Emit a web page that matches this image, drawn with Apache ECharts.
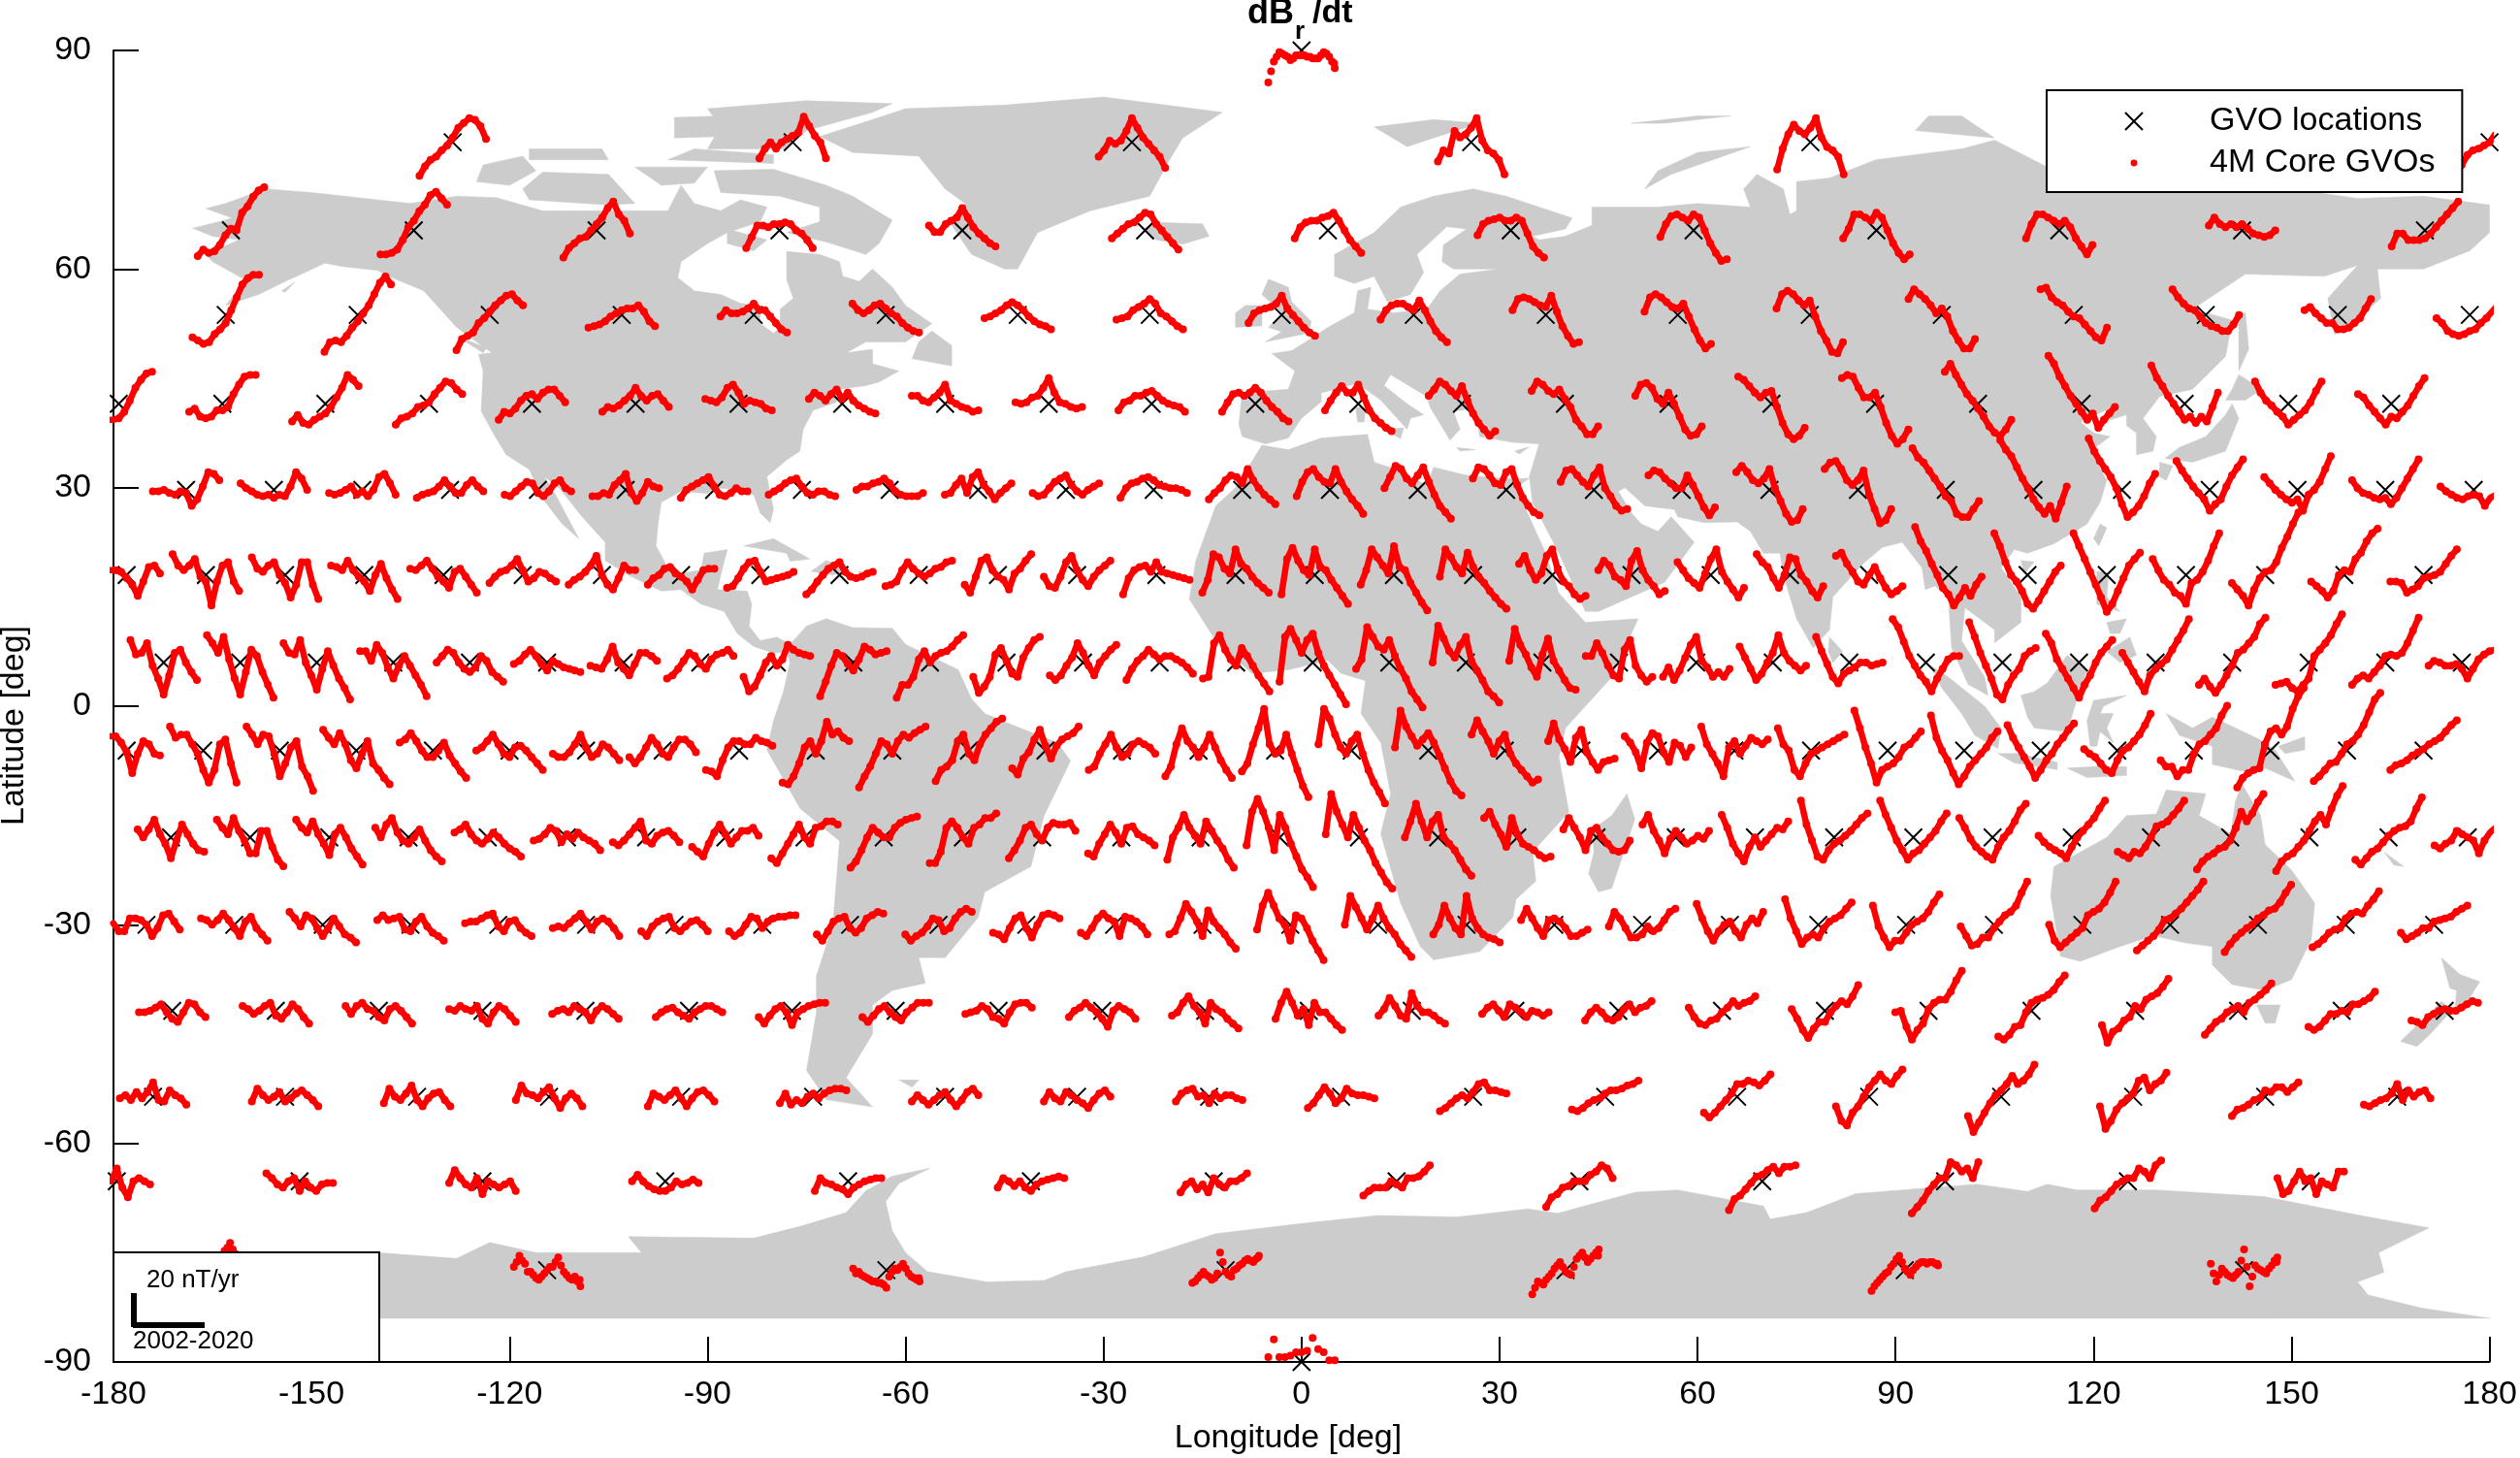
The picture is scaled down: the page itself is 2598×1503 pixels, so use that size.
<!DOCTYPE html>
<html><head><meta charset="utf-8"><style>html,body{margin:0;padding:0;background:#fff}#c{width:2598px;height:1503px}</style>
<script src="https://cdn.jsdelivr.net/npm/echarts@6/dist/echarts.min.js"></script></head><body><div id="c"></div>
<script>
const years=[2002,2003.5,2005,2006.5,2008,2009.5,2011,2012.5,2014,2015.5,2017,2018.5,2020];
const yearsMid=[2002.75,2004.25,2005.75,2007.25,2008.75,2010.25,2011.75,2013.25,2014.75,2016.25,2017.75,2019.25,2019.8];
const degLonPerYear=0.56, degLatPerNT=0.22;
const lons_p90=[0];
const lons_p77=[-128.6,-77.1,-25.7,25.7,77.1,128.6,180];
const lons_p65=[-162.2,-134.5,-106.8,-79.1,-51.4,-23.7,4,31.7,59.4,87.1,114.8,142.5,170.2];
const lons_p53=[-163,-143,-123,-103,-83,-63,-43,-23,-3,17,37,57,77,97,117,137,157,177];
const lons_p41=[-179.2,-163.5,-147.9,-132.2,-116.6,-100.9,-85.3,-69.6,-54,-38.3,-22.7,-7,8.6,24.3,39.9,55.6,71.2,86.9,102.5,118.2,133.8,149.5,165.1];
const lons_p30=[-169,-155.7,-142.3,-129,-115.7,-102.4,-89,-75.7,-62.4,-49,-35.7,-22.4,-9,4.3,17.6,31,44.3,57.6,70.9,84.3,97.6,110.9,124.3,137.6,150.9,164.2,177.6];
const lons_p18=[-178,-166,-154,-142,-130,-118,-106,-94,-82,-70,-58,-46,-34,-22,-10,2,14,26,38,50,62,74,86,98,110,122,134,146,158,170];
const lons_p6=[-172.4,-160.8,-149.2,-137.6,-126,-114.3,-102.7,-91.1,-79.5,-67.9,-56.3,-44.7,-33.1,-21.5,-9.9,1.7,13.3,24.9,36.5,48.1,59.8,71.4,83,94.6,106.2,117.8,129.4,141,152.6,164.2,175.8];
const lons_m6=[-178,-166.4,-154.8,-143.2,-131.6,-120,-108.4,-96.8,-85.2,-73.6,-62,-50.4,-38.8,-27.2,-15.6,-4,7.6,19.2,30.8,42.4,54,65.6,77.2,88.8,100.4,112,123.6,135.2,146.8,158.4,170];
const lons_m18=[-171.3,-159.3,-147.3,-135.3,-123.3,-111.3,-99.3,-87.3,-75.3,-63.3,-51.3,-39.3,-27.3,-15.3,-3.3,8.7,20.7,32.7,44.7,56.7,68.7,80.7,92.7,104.7,116.7,128.7,140.7,152.7,164.7,176.7];
const lons_m30=[-175,-161.7,-148.3,-135,-121.7,-108.4,-95,-81.7,-68.4,-55,-41.7,-28.4,-15,-1.7,11.6,25,38.3,51.6,64.9,78.3,91.6,104.9,118.3,131.6,144.9,158.2,171.6];
const lons_m42=[-171.1,-155.4,-139.8,-124.1,-108.5,-92.8,-77.2,-61.5,-45.9,-30.2,-14.6,1.1,16.7,32.4,48,63.7,79.3,95,110.6,126.3,141.9,157.6,173.2];
const lons_m53=[-174,-154,-134,-114,-94,-74,-54,-34,-14,6,26,46,66,86,106,126,146,166];
const lons_m65=[-179.5,-151.8,-124.1,-96.4,-68.7,-41,-13.3,14.4,42.1,69.8,97.5,125.2,152.9];
const lons_m77=[-165.7,-114.3,-62.9,-11.5,40,91.4,142.8];
const lons_m90=[0];

const dB_p90=[[-20,-7,-1,-3,-6,-3,-3,-4,-5,-5,-1,-4,-11]];
const dB_p90_mid=[[-13,-4,-2,-4,-5,-3,-3,-4,-5,-3,-2,-7,-8]];
const dB_p77=[
[-21,-15,-11,-9,-5,-2,3,9,12,15,14,10,2],[-10,-4,0,-4,0,2,4,6,16,10,4,0,-10],[-9,-5,1,-1,1,7,15,9,3,-1,-5,-9,-16],[-12,-5,-7,7,3,5,9,15,1,-5,-7,-11,-20],[-17,-4,5,11,7,5,9,15,3,-3,-5,-9,-20],[-18,-10,0,5,5,10,8,5,0,-5,-8,-10,-19],[-20,-14,-8,-5,-4,-2,0,5,7,9,10,11,12]];
const dB_p65=[
[-16,-12,-14,-13,-9,-3,1,0,11,15,21,25,27],[-15,-15,-14,-12,-6,2,6,12,16,22,24,20,16],[-17,-11,-8,-5,-4,0,4,8,14,18,10,6,-2],[-11,-4,3,3,2,4,4,5,4,0,-2,-6,-11],[3,-1,-1,4,6,8,14,8,2,-2,-5,-8,-10],[-5,-2,1,4,5,8,11,10,4,0,-4,-8,-12],[-5,2,5,6,6,8,9,11,6,0,-6,-10,-14],[-3,4,6,7,8,6,6,8,6,-2,-10,-14,-17],[-4,4,9,10,8,6,10,8,0,-8,-14,-19,-18],[-5,1,10,10,8,6,11,8,0,-8,-14,-18,-15],[-5,4,10,10,8,6,4,6,2,-5,-10,-15,-9],[3,8,4,2,4,2,4,1,-2,-3,-4,-3,0],[-10,-2,-2,-6,-6,-6,-5,-2,2,6,10,14,18]];
const dB_p53=[
[-14,-16,-18,-17,-12,-9,-5,3,11,19,23,25,25],[-23,-17,-16,-17,-13,-8,-4,1,6,13,20,24,19],[-22,-15,-13,-11,-5,-2,2,6,9,12,13,9,6],[-8,-7,-6,-4,-1,1,3,4,4,6,2,-4,-7],[-1,3,1,1,2,4,7,3,3,-1,-5,-9,-11],[7,3,1,3,6,7,4,1,-1,-5,-8,-10,-11],[-2,-1,1,3,6,8,6,3,-1,-4,-6,-7,-9],[-3,-2,-1,3,5,7,10,7,1,-1,-4,-7,-9],[-5,1,3,4,5,7,12,4,0,-4,-8,-11,-13],[-3,3,6,7,7,5,3,9,3,-4,-10,-14,-17],[3,10,11,10,8,6,5,12,2,-7,-13,-18,-17],[2,11,13,11,8,5,4,7,-1,-9,-16,-21,-18],[4,13,15,13,9,6,9,-1,-10,-16,-23,-24,-17],[10,16,13,10,6,1,4,-1,-10,-16,-21,-21,-15],[16,17,11,8,6,2,-1,-2,-6,-10,-14,-16,-8],[16,11,7,4,3,-1,-5,-7,-8,-10,-10,-6,0],[3,5,1,-2,-5,-5,-9,-9,-8,-5,-2,4,10],[-2,-5,-10,-12,-13,-12,-10,-9,-5,-2,2,6,10]];
const dB_p41=[
[-10,-10,-10,-10,-10,-10,-9,-5,2,10,15,19,20],[-5,-3,-8,-9,-8,-4,-4,-2,6,12,17,18,18],[-11,-7,-12,-13,-10,-8,-6,-2,4,10,18,15,11],[-13,-9,-8,-6,-2,-1,1,6,10,14,13,9,6],[-10,-5,-6,-3,2,5,6,3,7,9,9,5,1],[-5,-2,-3,-1,2,5,10,5,2,5,6,2,-2],[3,2,1,4,10,12,7,0,2,1,0,-3,-4],[3,7,5,2,6,9,3,7,2,-1,-3,-5,-6],[5,5,2,1,4,7,12,2,0,-2,-3,-5,-4],[1,0,1,4,5,10,16,7,1,0,-2,-3,-2],[-4,1,2,5,5,7,8,5,2,0,-1,-2,-5],[-5,1,6,7,5,7,10,7,2,-2,-5,-9,-11],[-4,2,7,11,7,7,12,4,-4,-9,-12,-15,-17],[5,9,14,12,8,5,11,2,-6,-12,-16,-20,-17],[8,14,12,8,6,9,3,-2,-10,-14,-19,-19,-14],[5,12,13,10,3,0,7,0,-8,-16,-20,-19,-14],[17,15,11,7,4,7,8,-2,-12,-19,-22,-20,-15],[16,18,17,10,4,4,7,-2,-12,-20,-25,-22,-16],[20,25,18,12,6,2,-3,-8,-14,-18,-20,-16,-10],[30,25,17,11,5,0,-5,-10,-6,-15,-10,-6,-2],[24,16,11,5,0,-5,-10,-8,-12,-8,-11,-2,7],[14,7,2,-1,-5,-8,-13,-10,-7,-4,1,8,14],[6,4,-1,-5,-9,-13,-8,-9,-5,-1,5,11,16]];
const dB_p30=[
[-1,-1,0,-2,-3,-1,-2,-10,-6,2,11,10,6],[4,1,-1,-3,-4,-3,-5,-3,-4,2,11,7,0],[-2,-3,-2,0,2,-3,-1,-4,0,8,10,4,-3],[-5,-3,-2,-1,2,6,2,-2,-2,3,6,2,-1],[-3,-4,-1,2,5,4,-2,-4,-1,4,6,1,-1],[-4,-4,-2,-3,3,6,10,-2,-7,-2,5,2,1],[-5,0,2,4,6,8,2,-3,-4,-2,1,-1,-1],[-3,-1,1,4,6,7,2,-2,-3,-1,-1,-3,-4],[0,2,2,4,5,7,4,-1,-3,-4,-4,-4,-2],[-3,-2,3,7,-2,8,11,3,-1,-6,-2,1,4],[-2,-4,-3,1,5,7,9,3,-1,-3,0,2,4],[-5,1,4,5,7,8,6,3,2,1,1,0,-2],[-6,-2,1,6,9,8,4,13,6,1,-3,-6,-9],[-4,5,11,13,8,5,4,13,5,-1,-6,-10,-15],[1,8,15,13,7,4,9,14,5,-3,-10,-14,-18],[7,14,13,9,4,3,11,13,3,-5,-10,-14,-16],[5,12,13,9,5,2,9,14,1,-4,-10,-13,-12],[9,12,11,7,4,1,1,9,3,-4,-11,-16,-11],[11,15,11,6,4,7,13,1,-7,-15,-20,-19,-12],[13,17,18,13,6,3,6,12,-3,-12,-21,-19,-12],[26,20,17,12,7,2,-4,-7,-15,-17,-17,-12,-7],[31,25,21,14,7,1,-6,-11,-15,-10,-18,-8,2],[32,24,18,13,8,1,-9,-17,-14,-10,-4,4,10],[18,12,7,2,-2,-6,-13,-9,-6,2,9,14,19],[8,4,0,-3,-6,-8,-6,-13,-3,0,5,13,21],[6,1,-2,-3,-5,-6,-5,-9,-5,1,7,13,19],[2,-1,-3,-5,-6,-4,-3,-4,-10,-5,-3,-1,1]];
const dB_p18=[
[3,3,3,3,3,2,-2,-6,-13,-4,5,6,1],[13,6,3,6,10,-1,-4,-19,-4,6,8,-4,-10],[11,4,2,6,8,0,-5,-14,-6,8,8,-6,-15],[6,5,3,9,3,-1,-4,-10,0,7,-2,-9,-15],[4,3,6,9,4,-1,-4,-8,2,4,-1,-6,-11],[-5,-1,2,3,6,10,3,-4,-2,2,1,-2,-4],[-6,-3,-1,2,6,12,0,-6,-9,-2,6,3,3],[-6,-2,0,4,5,1,-1,-4,-9,-3,3,4,4],[-8,-7,-2,4,8,9,2,-4,-3,-2,-1,0,2],[-12,-9,-4,0,4,6,8,2,-1,-2,-1,1,2],[-7,-6,-4,3,8,4,1,-1,1,4,5,8,9],[-6,-11,-1,9,11,3,-1,-3,-9,1,4,9,13],[-1,-7,-8,-1,8,12,3,-3,-7,-1,3,6,9],[-12,-2,3,5,6,2,8,2,1,0,-1,-2,-3],[-11,-3,13,11,4,1,16,7,4,-1,-5,-8,-11],[-12,10,17,9,3,0,16,5,3,-3,-8,-13,-18],[-6,3,16,11,6,1,18,5,3,-5,-11,-17,-22],[-1,16,11,5,1,14,5,-1,-5,-10,-14,-18,-21],[7,12,3,-3,1,12,16,3,-4,-7,-12,-15,-13],[3,9,6,-1,-3,-7,9,15,3,-3,-7,-12,-10],[8,3,-2,-5,-8,1,10,16,2,-4,-9,-14,-8],[13,8,5,-2,-8,0,11,10,0,-4,-10,-14,-7],[12,14,7,2,-4,-6,0,5,-2,-8,-12,-10,-7],[30,21,15,7,0,-8,-12,-19,-14,-8,-13,-6,-1],[26,18,8,0,-4,-10,-18,-21,-16,-10,-4,2,6],[26,18,10,2,-6,-14,-23,-18,-10,-2,6,10,14],[10,3,-3,-6,-11,-13,-18,-5,-3,2,9,18,26],[-5,-9,-13,-19,-9,-2,2,3,8,17,24,32,39],[-4,-7,-10,-14,-10,0,3,2,10,14,21,26,29],[-4,-4,-5,-11,-9,-7,-2,-1,0,2,7,12,16]];
const dB_p6=[
[14,5,6,12,-2,-10,-20,-8,6,8,0,-6,-11],[17,12,6,16,2,-10,-20,-6,8,4,-6,-14,-22],[12,6,5,14,0,-8,-17,-4,7,-2,-10,-16,-23],[7,7,1,11,6,-3,-10,-2,4,-2,-8,-14,-21],[0,4,8,6,0,-4,-6,-3,4,1,-6,-9,-12],[-1,1,5,8,4,-1,-5,1,-1,-3,-4,-5,-6],[-2,-3,-4,2,10,0,-4,-8,-1,6,6,4,1],[-10,-8,-4,1,6,4,-1,-4,2,5,6,8,4],[-9,-18,-15,-8,0,4,-2,2,11,8,6,5,4],[-21,-12,-2,6,4,-1,-5,2,10,8,5,6,7],[-22,-14,-14,-9,2,7,0,4,6,7,10,14,17],[-9,-19,-15,-9,5,9,1,-7,-9,3,9,14,16],[-8,-11,-8,-2,3,12,6,-2,-8,0,4,8,11],[-11,-4,1,4,8,5,2,4,4,2,0,-3,-7],[-10,-9,12,17,8,2,-2,9,4,-2,-8,-13,-18],[-12,16,21,14,6,14,18,6,-2,-8,-14,-20,-26],[-4,2,22,16,10,8,14,4,-4,-10,-18,-23,-28],[0,23,15,7,3,11,16,1,-5,-11,-18,-21,-25],[1,21,11,5,-3,-9,5,15,1,-5,-11,-16,-17],[4,4,12,6,-2,-8,-10,8,14,-2,-8,-12,-9],[-9,-3,-11,-5,3,11,16,1,-3,-9,-6,-9,-4],[10,3,-4,-11,-7,0,6,17,6,1,-2,-5,-2],[16,7,-1,-9,-13,-7,-5,-3,0,0,-2,-1,0],[27,22,13,4,-2,-8,-12,-18,-10,-4,2,4,4],[25,16,6,-2,-10,-20,-23,-14,-8,-4,4,7,9],[18,12,2,-4,-10,-16,-22,-14,-8,0,6,10,14],[6,0,-6,-12,-18,-8,-4,-1,2,8,14,20,27],[-14,-10,-15,-19,-14,-8,-2,6,8,12,16,24,28],[-14,-13,-12,-16,-18,-14,-10,4,8,12,17,24,30],[-14,-10,-8,-10,-6,-2,4,5,4,6,12,20,28],[-2,1,0,-2,-2,-1,-4,-10,-4,2,5,7,8]];
const dB_m6=[
[9,9,9,9,9,5,-1,-14,-2,6,4,-2,-3],[15,8,10,10,4,-2,-12,-20,-12,4,7,-8,-20],[15,10,4,10,9,-2,-16,-8,2,6,-10,-16,-25],[13,8,4,11,4,-6,-11,-2,6,-8,-12,-17,-21],[5,7,11,6,0,-4,-4,0,5,-3,-8,-13,-17],[0,2,6,10,4,-2,-4,2,3,0,-4,-8,-12],[-2,-4,-4,-1,4,10,2,-4,-2,4,2,-2,-6],[-4,-8,-4,2,8,4,-2,-4,2,7,7,4,-1],[-12,-13,-16,-6,2,6,6,4,4,8,6,5,3],[-20,-21,-16,-8,2,6,-2,6,18,10,12,8,6],[-23,-16,-10,-2,6,4,-2,6,10,8,11,13,15],[-19,-12,-10,-6,6,10,-2,-6,4,10,14,18,20],[-11,-15,-5,-1,7,13,3,-5,3,7,9,11,15],[-12,-10,-2,4,10,2,-4,-2,4,6,4,2,-2],[-16,-10,4,14,6,2,-4,2,10,2,-6,-12,-17],[-13,-8,4,14,26,4,-2,0,10,-2,-12,-22,-29],[4,26,20,10,2,-2,6,10,-2,-12,-20,-26,-33],[2,25,15,9,3,7,11,5,-3,-11,-19,-25,-28],[10,19,12,6,-2,6,10,-2,-8,-12,-16,-20,-18],[6,17,7,1,-7,8,13,-1,-7,-12,-7,-6,-5],[9,5,-1,-11,5,11,9,-1,-7,5,3,-4,2],[15,4,-2,-8,-16,2,6,-2,3,8,6,4,7],[14,4,0,-12,-16,-8,-2,0,2,4,6,8,10],[25,14,2,-8,-20,-12,-10,-8,-4,2,4,8,12],[22,8,0,-6,-14,-21,-16,-10,-6,-2,2,8,12],[16,8,2,-4,-10,-17,-12,-6,-2,4,8,13,17],[1,-2,-4,-8,-12,-14,-6,0,2,6,10,16,23],[-6,-10,-10,-16,-12,-12,-2,4,6,10,14,22,28],[-23,-17,-14,-12,-11,4,12,14,10,15,26,34,39],[-19,-16,-12,-8,-7,-2,4,6,10,16,24,32,36],[-12,-9,-8,-6,-3,-1,1,4,6,8,12,16,19]];
const dB_m18=[
[5,0,5,11,2,-4,-13,-2,8,2,-4,-8,-9],[11,6,2,12,4,-2,-10,-10,4,4,-6,-14,-18],[11,6,3,10,2,-4,-11,2,6,0,-7,-12,-17],[6,0,8,12,3,-2,-4,0,5,-2,-8,-12,-15],[3,5,8,2,-2,-4,-1,3,0,-4,-7,-9,-12],[-2,-1,2,6,4,-3,2,-1,3,0,-2,-4,-8],[-3,-5,-2,2,6,10,-2,-4,1,3,4,1,-3],[-6,-9,-12,-4,3,8,2,-4,0,4,4,6,1],[-13,-16,-10,-4,2,8,0,-4,6,7,10,10,8],[-19,-15,-8,0,6,3,0,0,6,9,11,12,13],[-16,-16,-9,6,10,6,0,-4,6,8,12,12,15],[-13,-8,-2,6,8,2,-2,6,9,8,8,9,4],[-10,-12,-4,2,8,3,-4,6,7,2,0,-2,-5],[-14,0,6,14,6,1,-4,10,4,-2,-7,-14,-19],[-5,16,24,16,6,-8,14,6,-4,-12,-20,-25,-31],[2,27,16,8,0,14,6,-2,-8,-16,-22,-28,-32],[0,10,21,10,0,10,14,0,-4,-8,-14,-20,-24],[12,16,8,2,-6,12,2,-4,-6,-8,-11,-13,-12],[5,12,6,0,-8,4,6,0,-4,-8,-9,-8,-2],[8,14,4,-2,-10,-1,4,0,-4,-2,1,-1,4],[14,6,-4,-10,-15,-6,0,-6,-2,2,6,5,10],[23,8,-2,-12,-14,-8,-4,-2,1,4,8,12,15],[23,14,6,-2,-8,-14,-10,-8,-4,0,4,10,15],[12,6,-1,-6,-9,-12,-14,-6,0,4,10,17,21],[1,-3,-6,-8,-10,-13,-6,0,4,8,12,18,23],[-9,-11,-13,-9,-10,-6,0,7,8,10,14,18,23],[-20,-15,-12,-10,-7,-6,-2,6,16,10,15,22,27],[-21,-15,-12,-10,-6,-2,4,10,14,8,18,26,32],[-14,-17,-13,-9,-7,-3,1,4,6,7,10,18,25],[-5,-7,-4,-2,4,2,0,-2,-10,-2,3,6,8]];
const dB_m30=[
[1,-4,-4,4,4,3,0,-7,-2,6,7,2,-3],[4,3,0,3,7,3,-2,-7,2,5,-2,-6,-10],[8,4,-1,6,4,-2,-7,-2,4,-1,-6,-8,-11],[3,6,3,4,5,-3,-4,2,5,-1,-5,-7,-10],[1,2,2,4,6,7,-1,-4,2,3,-2,-5,-7],[-2,-1,-2,1,4,7,2,-3,2,4,2,-2,-7],[-4,-7,-1,2,4,5,-2,-4,-1,2,3,0,-4],[-4,-7,-5,0,5,4,-2,2,4,5,5,6,6],[-6,-10,-4,2,4,5,-2,-5,-2,4,6,8,7],[-6,-10,-7,-5,-1,4,3,-4,-2,4,8,10,8],[-5,-6,-9,-2,4,6,-2,-8,0,6,7,6,4],[-5,-7,-2,4,7,4,2,-7,5,4,2,-1,-6],[-6,-4,4,13,8,2,-7,9,2,-2,-6,-11,-15],[-3,12,20,12,4,0,-10,6,4,-2,-10,-16,-22],[0,18,11,4,-3,4,12,4,-2,-6,-12,-16,-20],[-6,0,12,4,-2,-6,18,4,-2,-6,-8,-9,-11],[3,10,4,-2,-7,3,4,2,-2,-7,-7,-5,-3],[-1,8,4,-2,-8,-8,-6,-1,-4,-2,3,8,10],[13,4,-4,-10,-4,0,2,-4,-8,0,4,1,8],[16,4,-4,-12,-8,-6,-8,-2,2,4,6,10,14],[12,-1,-8,-14,-10,-10,-5,0,2,4,8,14,19],[-1,-7,-13,-12,-8,-8,-2,2,6,8,12,20,27],[0,-10,-14,-11,-8,-5,-2,6,8,10,14,20,27],[-16,-13,-10,-7,-3,3,4,7,10,14,18,22,27],[-17,-12,-8,-5,-2,0,4,6,9,10,14,20,25],[-14,-12,-9,-5,-3,-2,4,7,8,7,12,16,21],[-5,-9,-7,-5,-2,-2,2,3,4,5,8,10,12]];
const dB_m42=[
[-1,-1,0,2,4,-1,-5,-7,-1,5,4,-1,-4],[3,1,-2,0,3,5,-3,-5,-1,4,1,-4,-8],[3,-2,3,5,1,0,-4,-6,1,3,0,-4,-8],[1,0,3,1,0,3,-5,-8,-1,3,1,-3,-7],[-2,0,1,-1,3,1,-1,-6,0,3,1,-2,-5],[-4,-1,1,2,-1,-3,-5,-1,1,3,3,1,-1],[-4,-8,-3,1,3,-1,-9,-1,1,3,4,5,5],[-4,-7,-3,1,3,-1,-4,-6,-1,2,5,5,5],[-2,-1,0,3,1,-4,-5,-8,-1,4,5,5,2],[-4,0,2,5,2,-1,-5,-10,0,3,1,-1,-5],[-3,-1,5,9,3,-1,-8,5,1,-1,-5,-8,-11],[-5,5,12,5,-3,1,-9,5,-1,-1,-5,-9,-12],[-3,1,8,3,-3,-5,11,3,-1,-1,-3,-6,-8],[-2,2,4,0,-4,4,2,-1,-4,0,-1,-3,-1],[-6,-1,2,-1,-5,-6,-4,1,4,-1,2,3,6],[2,-4,-8,-9,-6,-5,-1,2,6,3,5,6,9],[1,-5,-12,-17,-11,-7,-7,-1,3,6,4,9,16],[-1,0,-10,-18,-12,-8,1,5,7,7,12,19,25],[-16,-18,-15,-10,-9,-1,5,7,8,10,13,18,22],[-9,-20,-13,-11,-6,-4,3,1,7,9,11,15,20],[-15,-11,-7,-5,-1,1,3,-1,5,7,10,13,17],[-10,-12,-10,-6,-2,-2,0,-1,4,4,6,8,12],[-6,-7,-9,-4,-2,0,1,0,0,2,4,6,5]];
const dB_m53=[
[-1,1,-2,3,-1,3,9,-2,-3,4,1,-1,-5],[-3,5,1,-2,0,3,-3,-1,2,4,1,-2,-6],[-4,5,0,-2,2,7,-2,-6,-1,2,3,-2,-6],[-2,7,2,1,-1,3,6,-1,-7,-1,2,-1,-6],[-6,2,0,-2,1,4,-1,-6,-1,3,4,1,-3],[-4,2,-5,-2,-4,0,2,-1,2,4,5,5,4],[-3,1,-2,-5,-2,1,3,-2,-6,-2,3,5,1],[-3,3,-1,-3,3,1,-2,-4,-7,-2,2,4,0],[-3,2,4,5,0,1,-4,2,-1,1,1,-1,-2],[-7,-4,1,6,2,-4,-1,5,2,1,1,0,-1],[-9,-7,-4,-1,1,-1,3,8,9,4,4,3,2],[-8,-9,-7,-4,-2,-1,2,4,4,5,7,8,10],[-10,-13,-10,-6,-2,2,8,8,10,9,7,10,14],[-6,-15,-18,-10,-6,0,6,10,14,10,8,13,17],[-12,-22,-16,-10,-4,1,4,8,13,8,10,14,20],[-6,-20,-15,-8,-4,-1,2,10,12,4,8,10,15],[-12,-8,-7,-5,-2,-1,4,3,6,6,3,6,9],[-5,-6,-4,-2,-1,2,8,-2,4,0,3,4,-1]];
const dB_m65=[
[0,0,0,0,0,0,8,-4,-10,0,2,0,-2],[5,2,-2,-4,0,2,-6,0,-4,-6,-2,-1,-1],[-1,7,2,-2,-4,2,-8,0,-2,-4,-2,0,-6],[0,4,0,-3,-5,-6,-6,-4,0,-2,-1,1,-1],[-6,2,-1,-2,-4,-5,-8,-4,-2,0,1,2,2],[-4,2,0,-3,0,-4,-6,-2,0,1,2,3,2],[-7,-2,0,-5,-2,-7,2,-2,-4,0,0,2,5],[-9,-6,-4,-4,-4,0,-2,-4,2,2,3,6,10],[-16,-10,-8,-4,-3,0,0,0,4,6,10,8,2],[-18,-11,-9,-5,-1,3,4,7,9,5,9,9,10],[-20,-16,-12,-6,-2,2,2,12,10,6,8,2,12],[-17,-12,-10,-6,-2,0,2,2,8,6,2,10,13],[2,-8,-6,0,6,0,2,-8,0,-2,-4,6,6]];
const dB_m77=[
[-8,-6,-4,-2,0,2,0,2,4,12,17,10,8],[2,9,4,-1,-5,-4,0,2,8,-1,-5,-4,-10],[1,-1,-4,-6,-7,-8,-11,-1,0,4,-2,-5,-7],[-8,-5,-1,-4,-5,11,-1,-4,1,4,7,5,9],[-15,-7,-9,-4,1,5,-1,-3,7,11,5,9,13],[-13,-8,-4,-1,4,9,1,-3,2,5,4,5,3],[4,-7,1,-3,-5,-1,13,-10,3,0,-2,3,8]];
const dB_m77_mid=[
[-6,-5,-3,-1,1,1,1,3,8,14,13,9,7],[5,6,-1,-3,-6,-2,2,5,3,-3,-6,-7,-6],[-2,-3,-5,-7,-8,-9,-4,1,2,1,-4,-6,-5],[-7,-3,-3,-6,-2,5,-3,0,3,6,6,7,8],[-11,-8,-6,-2,3,2,-2,2,9,8,7,11,9],[-10,-6,-2,2,7,5,-1,0,4,5,5,4,4],[-2,-3,-1,-4,-3,6,2,-4,1,-1,1,6,5]];
const dB_m90=[[3,14,3,3,4,6,6,7,15,8,6,1,1]];

const northAmerica=[[-168,65.6],[-164,66.5],[-162,67],[-166,68.3],[-163,69],[-157,71],[-150,70.5],[-141,69.6],[-135,69],[-128,70],[-122,69.8],[-115,68],[-108,68],[-100,68],[-96,68],[-94,71.5],[-92,69],[-88,68],[-85,69.5],[-81,68.5],[-82,66.5],[-87,65],[-90,63.5],[-94,61],[-94.5,58.8],[-92,57],[-88,56.5],[-85,55.3],[-82,55],[-82,52.5],[-80,51.2],[-79,52],[-79,54.5],[-77,56],[-78,58.5],[-78,60],[-78,62.4],[-73,62],[-70,61],[-69.5,59],[-67,58.3],[-65,60],[-62,57.5],[-60,55],[-56,52.5],[-60,50],[-66,50],[-69,48.5],[-65,49],[-65,47],[-61,46],[-64,44.5],[-66,44],[-70,43.5],[-70.5,41.7],[-74,40.6],[-75.5,38],[-76,35],[-78,33.8],[-81,31.5],[-80,27],[-80.5,25.2],[-82,26.5],[-83,29],[-85,29.7],[-89,30],[-90,29.2],[-94,29.5],[-97,28],[-97.5,25],[-97.8,22],[-96,19],[-94,18.2],[-91,18.7],[-90.5,21],[-87,21.5],[-88,18],[-88.5,16],[-84,15.8],[-83.3,14],[-83.7,11],[-82,9],[-79.5,9.5],[-77.5,8.5],[-78,7.5],[-80,7.3],[-83,8.2],[-85.5,10],[-87.5,13],[-91,14],[-94,16],[-97,15.8],[-102,18],[-105.5,20],[-105.5,22.5],[-109,26],[-112.5,30],[-114.7,31.5],[-113,29],[-109.5,23],[-112,25],[-115,28.5],[-117,32.5],[-120.5,34.5],[-122.5,37.5],[-124.3,40.5],[-124,46],[-124.7,48.3],[-122.7,48.5],[-125,50],[-128,52],[-130.5,54.5],[-133,57],[-137,58.5],[-140,59.8],[-145,60.3],[-148,60.8],[-151.5,59.3],[-153.5,58.5],[-158,56.5],[-163,55],[-160,58.5],[-162,59.5],[-165,61],[-166,62],[-161,64],[-165,64.5]];
const southAmerica=[[-77.5,8.5],[-75,11],[-72,12],[-68,10.8],[-62,10.7],[-60,8.5],[-52,5],[-50,1],[-48,-1],[-44,-2.5],[-37,-5],[-35,-7.5],[-39,-15],[-41,-22],[-48,-25.5],[-49,-29],[-54,-34.5],[-58,-34.5],[-57,-38],[-62,-39],[-65,-41],[-65,-45],[-69,-51],[-65,-55],[-72,-54],[-75,-50],[-73.5,-42],[-73.5,-37],[-71,-30],[-70,-18.5],[-76,-14],[-81,-6],[-80,-2],[-78.5,2],[-77.5,6],[-78,7.5]];
const eurasia=[[-9,37],[-9.5,38.7],[-9,43],[-2,43.5],[-1,46],[-4.5,48.4],[-1.5,48.8],[1.5,50.5],[4,52],[8,54],[8.5,57],[10.5,57.5],[10,54.5],[14,54],[19,54.5],[21,57],[24,59.3],[30,60],[23,60],[21.3,61],[21.5,63.3],[25,65.5],[22,65.8],[17.5,62],[18.5,59.5],[16.5,56.5],[13,55.5],[11,59],[8,58],[5,59],[5,62],[11,65],[15,68.5],[20,70],[26,71],[31,70],[41,67],[40,65.5],[35,64.5],[36,64],[40,64.5],[44,66],[44,68.5],[54,68.5],[60,69],[68,68.5],[67,71],[69,73],[73,71],[74,67.5],[72,66.5],[75,68],[75,72],[80,72.5],[87,75],[100,76.5],[105,77.7],[113,74],[125,73.5],[130,71],[140,72.5],[150,71],[160,69.7],[170,70],[180,68.8],[180,65],[177,62.5],[170,60],[163,60],[163.5,56],[160,53],[156.5,51],[155.5,56],[160,60.5],[155,59],[143,59.3],[135,54.5],[141,53],[140,48],[135,43.5],[130,42.5],[127.5,39.5],[129.5,37],[129,35],[126.5,34.5],[126.5,37.5],[125,38.5],[125,40],[121.5,39],[122,40.7],[118,39],[120,37.5],[122.5,37],[119.5,35],[122,31],[121,28],[119,25],[114,22.3],[110,21],[108,21.5],[106,19],[109,15],[109,11.5],[105,8.7],[105,10.5],[102,12.5],[100.5,13.5],[100,9],[103.5,4],[104,1.5],[101,3],[98.5,8],[98,15],[96,16.5],[94.5,16],[94,19],[91,22.5],[88,21.8],[85,19.5],[80.5,15],[80,10.5],[77.5,8],[75,12],[73,18],[72.5,21],[70,21],[68,24],[66,25.3],[61,25.2],[57,26],[56.5,27],[52,27.5],[49,30],[48,29.5],[50,26.5],[51.5,25],[54,24],[56,26],[59.5,22.5],[55,17],[45,13],[43,13],[39,21],[35,28],[34.5,31.5],[36,36],[32,36.2],[27,37],[26.5,40],[26,40.8],[23,40.5],[24,38],[22.5,36.5],[19.5,41],[19,42.5],[13.5,45.5],[12.5,44],[16,41.5],[18.5,40],[16.5,39.5],[16,38],[12,42],[8.5,44.3],[3,43],[3,41.8],[0,39.5],[-2,36.8],[-5.5,36]];
const africa=[[-6,35.8],[-2,35.2],[3,36.8],[10,37.3],[11,33.5],[15,32.3],[19,30.3],[20,32.8],[25,31.7],[32,31.2],[34.5,31.3],[32.5,30],[34,27],[37,21],[39,15.5],[43,11.5],[51,12],[47,4],[40,-3],[39,-7],[40.5,-14.5],[35,-20],[35.5,-24],[32.5,-26.5],[32,-29],[27,-33.7],[20,-34.8],[18,-33],[15,-27],[12,-17.5],[13.5,-12],[12,-5],[9,-1],[9.7,3.5],[6,4.5],[4,6.3],[-2,5],[-7.5,4.5],[-13,9],[-17,14.7],[-16,20],[-13,27.5],[-10,30]];
const australia=[[114,-22],[113.5,-26],[115,-34.3],[118,-35],[124,-33],[129,-31.5],[134,-32.5],[138,-33],[138,-35.5],[141,-38.2],[146,-39],[150,-37.5],[153,-32],[153.5,-27],[150,-22.5],[146,-19],[145.3,-15],[142.5,-10.7],[141.5,-13],[140.8,-17.5],[136,-15],[137,-12],[131,-11.5],[129.5,-14.8],[125,-15],[122,-18],[117,-20.5]];
const antarctica=[[-180,-84],[-160,-80],[-155,-78],[-150,-76],[-140,-75],[-128,-75.8],[-123,-73.6],[-116,-75],[-100,-75],[-102,-72.8],[-83,-73],[-76,-71.4],[-69,-69.5],[-66,-66.5],[-62,-64.5],[-56.3,-63.4],[-61,-65.5],[-63,-68],[-62,-72],[-60,-75],[-56.7,-77.6],[-47.7,-79],[-39,-78.8],[-35.6,-77.6],[-24,-75.6],[-13,-72.4],[0,-71],[11.5,-69.9],[23.6,-70.1],[34.3,-69],[38.8,-69.6],[50.6,-66.7],[57,-66.4],[70,-68.6],[71,-70.4],[76.5,-69.5],[84,-66.9],[102.3,-65.6],[110,-66.6],[113,-65.6],[117.5,-66.4],[129.6,-66.4],[145.8,-67.3],[161,-70],[170.8,-71.6],[163.2,-75],[164,-77.7],[160,-79],[161.6,-80.8],[169.7,-82.6],[180,-84]];
const greenland=[[-73,78.2],[-68,76],[-58,75.5],[-54,71],[-51,69],[-53,66],[-50,62],[-45,60],[-43,60],[-40,65],[-32,68],[-23,70],[-20,75],[-18,78],[-12,81.5],[-30,83.6],[-45,82.5],[-60,82],[-65,80.5]];
const arcticCanada=[
[[-80,73.7],[-72,71.5],[-68,70],[-62,66.7],[-64,63.5],[-66,62],[-72,63.7],[-78,65],[-73,66.5],[-73,68.5],[-79,70],[-88,70.5],[-89,73.5]],
[[-117,69.5],[-105,68.8],[-101,69],[-105,73],[-115,73.3],[-118,71]],
[[-125,72],[-120,71.5],[-116,73.5],[-118,75.5],[-124,74.3]],
[[-90,76.5],[-78,76.5],[-75,79],[-65,81.5],[-62,82.7],[-75,83.1],[-90,82],[-88,79.5]],
[[-96,75],[-80,74.5],[-80,75.7],[-92,76.5]],
[[-117,75],[-105,75],[-106,76.5],[-117,76.5]],
[[-101,74],[-90,74],[-92,71.8],[-97,71.5]],
[[-95,78],[-88,78.2],[-88,81],[-95,80.8]],
[[-87,65.5],[-81,64],[-83,62.5],[-87,63.5]]];
const smallIslands=[
[[-59,47.7],[-53,46.7],[-53,49.5],[-56,51.5],[-58,50]],
[[-24,65.5],[-22,64],[-18,63.4],[-14,64.5],[-15,66.2],[-22,66.4]],
[[11,79.5],[16,76.8],[20,78],[27,80],[20,80.5]],
[[52,71],[56,73],[68,76.8],[60,76],[54,73.5]],
[[50,80],[60,81],[65,81],[55,80]],
[[93,79],[105,78],[100,81],[95,81]],
[[137,75],[150,75],[145,76]],
[[-5.5,50],[1,51.2],[1.5,52.8],[-1.5,55.5],[-2,57.5],[-5,58.6],[-6,56.5],[-3,54],[-5,52],[-3,51.4]],
[[-10,52],[-6,52.2],[-6,55],[-8.5,55],[-10,54]],
[[130.8,34],[135,33.5],[140,35],[142,39.5],[141,41.5],[140,40],[137,37],[133,35.5]],
[[140,42],[143,42],[145.5,43.5],[142,45.5],[141,43.5]],
[[130,33.5],[132,33],[131,31],[130,31.5]],
[[142,46],[143.5,49],[143,54],[142,54],[142,49]],
[[121,25],[122,24.5],[120.8,22],[120,23]],
[[109,20],[111,19.8],[109.5,18.2]],
[[80,9.5],[82,7.5],[80.5,6],[79.8,7.5]],
[[120.5,18.5],[122.3,18.3],[122,15],[124,13],[120.5,14]],
[[122,7.5],[125.5,9.5],[126.5,7],[124,6]],
[[122,11.5],[125,12],[124,10],[122.5,10]],
[[109,1.5],[111,2],[113,3.2],[116,7],[119,5],[117.5,1],[116,-3.5],[111,-3],[110,-1.5]],
[[95.3,5.6],[98,4],[103.5,0],[106,-3],[105.5,-5.8],[102,-4],[100,-1],[97,2.5]],
[[105.5,-6.5],[108.5,-6.5],[114.5,-7.7],[114.5,-8.7],[108,-7.8]],
[[119.5,-5.5],[119,-2],[120,0.8],[125,1.5],[121.5,0],[121,-1],[123,-1],[122,-3],[123,-5],[121,-3.5],[120.5,-5.5]],
[[131,-1],[135,-3],[138,-1.5],[145,-4.5],[147.5,-6],[150.5,-10.3],[146,-8.5],[143,-9],[138,-8],[138,-5.5],[133,-4],[132,-2.5]],
[[116,-8.5],[120,-8.3],[125,-8.3],[125,-9.5],[119,-9.8]],
[[148,-5.5],[152,-4.2],[152,-6],[149,-6.5]],
[[144.7,-41],[148.3,-41],[147.5,-43.5],[146,-43.5]],
[[172.7,-34.5],[175.5,-36.8],[178.5,-37.8],[176,-41.5],[174.8,-41.2],[175,-39],[174,-38.7]],
[[172.7,-40.5],[174.3,-41.7],[171,-45],[169,-46.7],[166.5,-46],[169,-43.8]],
[[164,-20],[167,-22],[165.5,-21.8]],
[[49.3,-12],[50.5,-15.5],[47,-25],[45,-25.5],[43.5,-23],[44.3,-20],[44,-17],[47,-15]],
[[-61,-51.3],[-58,-51.3],[-59,-52.3]],
[[-38,-54],[-36,-54],[-36.5,-54.8]],
[[-84.5,22],[-80,23],[-74.5,20.2],[-77.5,19.9],[-78,21]],
[[-74.3,18.5],[-72,20],[-68.5,18.7],[-71,18]],
[[-78.3,18.4],[-76.3,18.2],[-77,17.8]],
[[-67.2,18.5],[-65.6,18.4],[-66.5,17.9]],
[[-156,20.2],[-155,19.7],[-155.6,19]],
[[-154.5,57],[-152.5,58.2],[-154,56.8]],
[[-128,50.8],[-124,48.5],[-123.5,49.2]],
[[12.5,38],[15.5,38.2],[15,36.7]],
[[8.2,41],[9.7,41],[9.5,39],[8.5,39]],
[[23.5,35.5],[26.3,35.2],[24,35]],
[[32.3,35],[34.5,35.6],[33,34.6]]];
const landPolygons=[northAmerica,southAmerica,eurasia,africa,australia,antarctica,greenland,...arcticCanada,...smallIslands];

const gvoRows=[
 {lat:90,lons:lons_p90,dB:dB_p90,mid:dB_p90_mid,trace:false},{lat:77.4,lons:lons_p77,dB:dB_p77,trace:true},
 {lat:65.3,lons:lons_p65,dB:dB_p65,trace:true},{lat:53.7,lons:lons_p53,dB:dB_p53,trace:true},
 {lat:41.5,lons:lons_p41,dB:dB_p41,trace:true},{lat:29.7,lons:lons_p30,dB:dB_p30,trace:true},
 {lat:18,lons:lons_p18,dB:dB_p18,trace:true},{lat:6,lons:lons_p6,dB:dB_p6,trace:true},
 {lat:-6.1,lons:lons_m6,dB:dB_m6,trace:true},{lat:-18,lons:lons_m18,dB:dB_m18,trace:true},
 {lat:-30,lons:lons_m30,dB:dB_m30,trace:true},{lat:-41.8,lons:lons_m42,dB:dB_m42,trace:true},
 {lat:-53.6,lons:lons_m53,dB:dB_m53,trace:true},{lat:-65.2,lons:lons_m65,dB:dB_m65,trace:true},
 {lat:-77.4,lons:lons_m77,dB:dB_m77,mid:dB_m77_mid,trace:false},{lat:-90,lons:lons_m90,dB:dB_m90,trace:false}];

const locations=[],dots=[],traces=[];
gvoRows.forEach(r=>r.lons.forEach((lon,i)=>{
  locations.push([lon,r.lat]);
  r.dB[i].forEach((v,j)=>{
    const p=[lon+(years[j]-2011)*degLonPerYear, r.lat+v*degLatPerNT];
    dots.push(p); if(r.trace) traces.push(p);
  });
  if(r.mid) r.mid[i].forEach((v,j)=>dots.push([lon+(yearsMid[j]-2011)*degLonPerYear, r.lat+v*degLatPerNT]));
  if(r.trace) traces.push([NaN,NaN]);
}));

const F='"Liberation Sans",Arial,sans-serif';
const T=(text,x,y,size,extra)=>({type:'text',zlevel:2,z:100,x,y,style:Object.assign({text,fill:'#000',font:size+'px '+F,textVerticalAlign:'middle'},extra||{})});
const chart=echarts.init(document.getElementById('c'),null,{renderer:'canvas'});
chart.setOption({
 animation:false,backgroundColor:'#fff',
 grid:{left:117,right:22,top:52,bottom:99,containLabel:false},
 xAxis:{type:'value',min:-180,max:180,interval:30,
  axisLine:{show:true,onZero:false,lineStyle:{color:'#000',width:2}},
  axisTick:{inside:true,length:26,lineStyle:{color:'#000',width:2}},splitLine:{show:false},
  axisLabel:{color:'#000',fontSize:34,fontFamily:'Liberation Sans',margin:17,showMinLabel:true,showMaxLabel:true}},
 yAxis:{type:'value',min:-90,max:90,interval:30,
  axisLine:{show:true,onZero:false,lineStyle:{color:'#000',width:2}},
  axisTick:{inside:true,length:26,lineStyle:{color:'#000',width:2}},splitLine:{show:false},
  axisLabel:{color:'#000',fontSize:34,fontFamily:'Liberation Sans',margin:23,showMinLabel:true,showMaxLabel:true}},
 legend:{show:true,orient:'vertical',left:2110,top:93,z:10,zlevel:2,selectedMode:false,
  padding:[15,28,13,80],itemWidth:146,itemHeight:18,itemGap:9,itemStyle:{},
  backgroundColor:'#fff',borderColor:'#000',borderWidth:2,borderRadius:0,
  textStyle:{color:'#000',fontSize:34,fontFamily:'Liberation Sans'},
  data:[{name:'GVO locations',icon:'path://M0 0L100 100M100 0L0 100'},
        {name:'4M Core GVOs',icon:'path://M0 0L0.01 0ZM100 100L100.01 100ZM50 31A19 19 0 1 1 50 69A19 19 0 1 1 50 31Z'}]},
 series:[
  {type:'custom',name:'Land',z:1,silent:true,coordinateSystem:'cartesian2d',clip:true,
   data:landPolygons.map(p=>p[0]),
   renderItem:(params,api)=>({type:'polygon',shape:{points:landPolygons[params.dataIndex].map(c=>api.coord(c))},style:{fill:'#cccccc',stroke:'#cccccc',lineWidth:0.5}})},
  {type:'scatter',name:'GVO locations',z:2,clip:false,progressive:0,data:locations,symbol:'path://M0 0L100 100M100 0L0 100',symbolSize:18,
   itemStyle:{color:'rgba(0,0,0,0)',borderColor:'#000',borderWidth:2,opacity:1}},
  {type:'line',name:'4M Core trace',z:3,data:traces,showSymbol:false,connectNulls:false,clip:true,silent:true,progressive:0,
   lineStyle:{color:'#ff0000',width:6.5,cap:'round',join:'round'},itemStyle:{color:'#ff0000'}},
  {type:'scatter',name:'4M Core GVOs',z:4,clip:true,progressive:0,data:dots,symbol:'circle',symbolSize:8,itemStyle:{color:'#ff0000',opacity:1}}
 ],
 graphic:{elements:[
  {type:'rect',zlevel:2,z:100,shape:{x:117,y:1291,width:274,height:113},style:{fill:'#fff',stroke:'#000',lineWidth:2}},
  {type:'rect',zlevel:2,z:101,shape:{x:135,y:1333,width:6,height:35},style:{fill:'#000'}},
  {type:'rect',zlevel:2,z:101,shape:{x:137,y:1363,width:74,height:6},style:{fill:'#000'}},
  T('20 nT/yr',151,1320,26,{}),T('2002-2020',137,1383,26,{}),
  T('dB',1286,14,36,{font:'bold 36px '+F}),T('r',1335,33,26,{font:'bold 26px '+F}),T('/dt',1353,14,34,{font:'bold 34px '+F}),
  T('Longitude [deg]',1328,1483,34,{textAlign:'center'}),
  {type:'text',zlevel:2,z:100,x:15,y:748,rotation:Math.PI/2,style:{text:'Latitude [deg]',fill:'#000',font:'34px '+F,textAlign:'center',textVerticalAlign:'middle'}}
 ]}
});
</script></body></html>
